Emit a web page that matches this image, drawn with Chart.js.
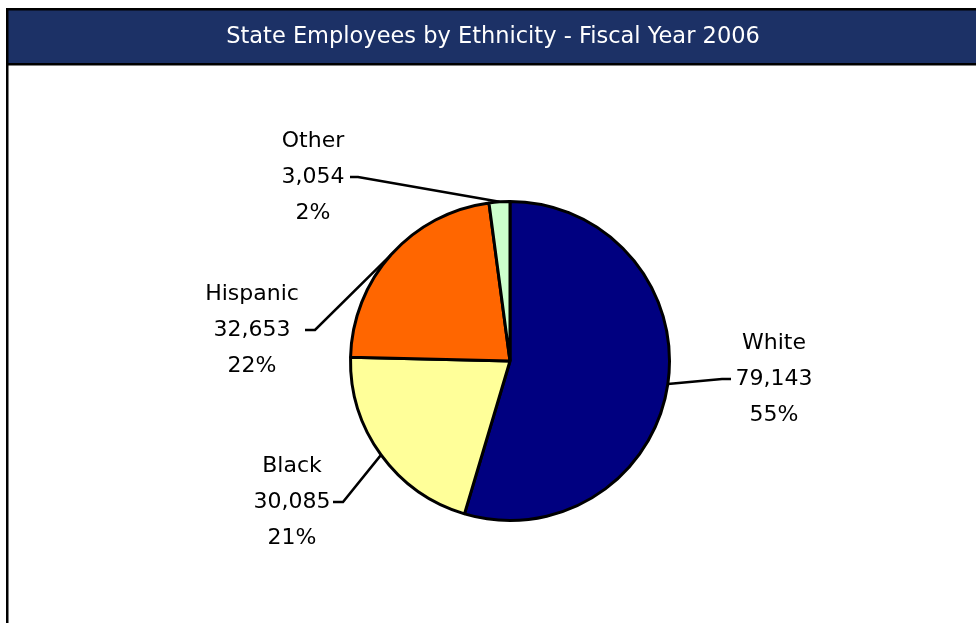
<!DOCTYPE html>
<html>
<head>
<meta charset="utf-8">
<script src="https://cdn.jsdelivr.net/npm/chart.js@4.4.0/dist/chart.umd.min.js"></script>
<style>
  html, body { margin: 0; padding: 0; background: #ffffff; }
  #wrap { width: 976px; height: 623px; position: relative; }
</style>
</head>
<body>
<div id="wrap"><canvas id="c" width="976" height="623"></canvas></div>
<script>
// ---- data ----
const titleText = 'State Employees by Ethnicity - Fiscal Year 2006';
const categories = ['White', 'Black', 'Hispanic', 'Other'];
const employees = [79143, 30085, 32653, 3054];
const percentLabels = ['55%', '21%', '22%', '2%'];
const sliceColors = ['#000080', '#FFFF99', '#FF6600', '#CCFFCC'];

// ---- label layout (pixel offsets from pie centre) ----
const labelLayout = [
  { elbow: [212, 18],  tickX: 221,  textX: 264,  textY: 18 },
  { elbow: [-167, 141], tickX: -177, textX: -218, textY: 141 },
  { elbow: [-195, -31], tickX: -205, textX: -258, textY: -31 },
  { elbow: [-152, -184], tickX: -160, textX: -197, textY: -184 }
];

const frameLayout = {
  left: 6, top: 8, headerBottom: 63, line: 2.5, navy: '#1c3166'
};

const framePlugin = {
  id: 'frame',
  beforeDraw(chart) {
    const ctx = chart.ctx;
    const f = frameLayout;
    ctx.save();
    ctx.fillStyle = '#ffffff';
    ctx.fillRect(0, 0, chart.width, chart.height);
    // header band
    ctx.fillStyle = f.navy;
    ctx.fillRect(f.left, f.top, chart.width - f.left, f.headerBottom - f.top);
    // borders
    ctx.fillStyle = '#000000';
    ctx.fillRect(f.left, f.top, chart.width - f.left, f.line);
    ctx.fillRect(f.left, f.headerBottom, chart.width - f.left, f.line);
    ctx.fillRect(f.left, f.top, f.line, chart.height - f.top);
    // title
    ctx.fillStyle = '#ffffff';
    ctx.font = '22.5px "DejaVu Sans"';
    ctx.textAlign = 'center';
    ctx.textBaseline = 'middle';
    ctx.fillText(titleText, 493, (f.top + f.headerBottom) / 2 + 2);
    ctx.restore();
  }
};

const labelPlugin = {
  id: 'pieLabels',
  afterDatasetsDraw(chart) {
    const ctx = chart.ctx;
    const meta = chart.getDatasetMeta(0);
    ctx.save();
    meta.data.forEach((arc, i) => {
      const p = arc.getProps(['x', 'y', 'startAngle', 'endAngle', 'outerRadius'], true);
      const mid = (p.startAngle + p.endAngle) / 2;
      const sx = p.x + Math.cos(mid) * p.outerRadius;
      const sy = p.y + Math.sin(mid) * p.outerRadius;
      const L = labelLayout[i];
      ctx.strokeStyle = '#000000';
      ctx.lineWidth = 2.5;
      ctx.beginPath();
      ctx.moveTo(sx, sy);
      ctx.lineTo(p.x + L.elbow[0], p.y + L.elbow[1]);
      ctx.lineTo(p.x + L.tickX, p.y + L.elbow[1]);
      ctx.stroke();

      ctx.fillStyle = '#000000';
      ctx.font = '22px "DejaVu Sans"';
      ctx.textAlign = 'center';
      ctx.textBaseline = 'middle';
      const tx = p.x + L.textX;
      const ty = p.y + L.textY;
      ctx.fillText(categories[i], tx, ty - 36);
      ctx.fillText(employees[i].toLocaleString('en-US'), tx, ty);
      ctx.fillText(percentLabels[i], tx, ty + 36);
    });
    ctx.restore();
  }
};

new Chart(document.getElementById('c'), {
  type: 'pie',
  data: {
    labels: categories,
    datasets: [{
      data: employees,
      backgroundColor: sliceColors,
      borderColor: '#000000',
      borderWidth: 3,
      borderAlign: 'center'
    }]
  },
  options: {
    responsive: false,
    animation: false,
    devicePixelRatio: 1,
    layout: { padding: { left: 349, right: 305, top: 200, bottom: 101 } },
    plugins: {
      legend: { display: false },
      tooltip: { enabled: false },
      title: { display: false }
    }
  },
  plugins: [framePlugin, labelPlugin]
});
</script>
</body>
</html>
